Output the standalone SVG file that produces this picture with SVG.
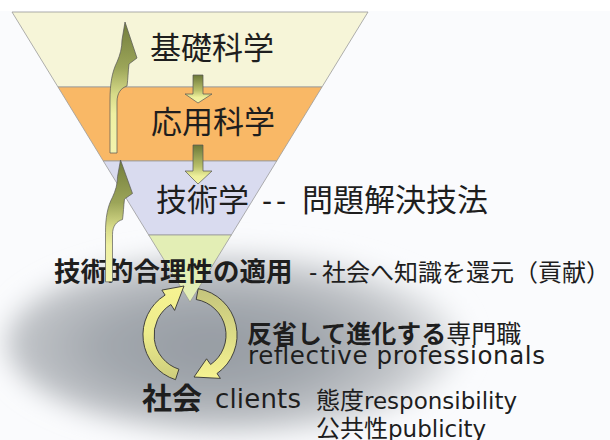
<svg xmlns="http://www.w3.org/2000/svg" xmlns:xlink="http://www.w3.org/1999/xlink" width="610" height="440" viewBox="0 0 610 440">
<defs>
<style>
.jp{font-family:"Noto Sans CJK JP","Noto Sans",sans-serif;fill:#1e1e1e}
.lat{font-family:"DejaVu Sans","Liberation Sans",sans-serif;fill:#1e1e1e}
.b{font-weight:bold}
.band{stroke:#9a9a9a;stroke-width:0.8}
.arr{stroke:#555;stroke-width:0.7}
.circ{stroke:#333;stroke-width:0.9}
</style>
<radialGradient id="shade" cx="0.45" cy="0.52" r="0.55">
<stop offset="0" stop-color="#959ba2"/>
<stop offset="0.45" stop-color="#a3a8ae"/>
<stop offset="0.78" stop-color="#c2c5c9"/>
<stop offset="1" stop-color="#eaecee"/>
</radialGradient>
<filter id="blur" x="-30%" y="-40%" width="160%" height="180%">
<feGaussianBlur stdDeviation="13"/>
</filter>
<linearGradient id="downG" x1="0" y1="0" x2="0" y2="1">
<stop offset="0" stop-color="#6c7838"/>
<stop offset="0.55" stop-color="#b9c06a"/>
<stop offset="0.8" stop-color="#eef09c"/>
<stop offset="1" stop-color="#f2f3a6"/>
</linearGradient>
<linearGradient id="upG" gradientUnits="userSpaceOnUse" x1="0" y1="22" x2="0" y2="153">
<stop offset="0" stop-color="#727d3c"/>
<stop offset="0.35" stop-color="#9ca559"/>
<stop offset="0.55" stop-color="#d6da88"/>
<stop offset="0.7" stop-color="#eef0a2"/>
<stop offset="1" stop-color="#f3f3ae"/>
</linearGradient>
<linearGradient id="leftG" x1="0" y1="0" x2="0" y2="1">
<stop offset="0" stop-color="#f6f392"/>
<stop offset="0.5" stop-color="#eeec8c"/>
<stop offset="1" stop-color="#cccc7c"/>
</linearGradient>
<linearGradient id="rightG" x1="0" y1="0" x2="0" y2="1">
<stop offset="0" stop-color="#c4c47c"/>
<stop offset="0.5" stop-color="#dcdb86"/>
<stop offset="1" stop-color="#f6f392"/>
</linearGradient>
<path id="upArrow" d="M110,153 L110,100 C110,84 112,72 117,62 C120,55 122,48 122,40 L125,22 L137,58 L129,64 C128,72 128,79 127,86 C121,88 117,93 117,102 L117,153 Z"/>
</defs>

<rect x="0" y="0" width="610" height="440" fill="#fafbfd"/>
<rect x="0" y="0" width="610" height="11" fill="#ffffff"/>

<g id="shadow">
<ellipse cx="234" cy="343" rx="228" ry="90" fill="url(#shade)" filter="url(#blur)"/>
</g>

<g id="funnel">
<g id="node-basic-science">
<polygon class="band" points="12,12 368,12 322,87 58,87" fill="#f6f5d8"/>
<text class="jp" x="150" y="59" font-size="31">基礎科学</text>
</g>
<g id="node-applied-science">
<polygon class="band" points="58,87 322,87 276.7,161 103.3,161" fill="#f9b866"/>
<text class="jp" x="151" y="133" font-size="31">応用科学</text>
</g>
<g id="node-engineering">
<polygon class="band" points="103.3,161 276.7,161 231.3,235 148.7,235" fill="#d9dbef"/>
<text class="jp" x="156" y="211" font-size="31">技術学</text>
<text class="lat" x="262" y="211" font-size="28" letter-spacing="4">--</text>
<text class="jp" x="302" y="211" font-size="31">問題解決技法</text>
</g>
<g id="node-apex">
<polygon class="band" points="148.7,235 231.3,235 190,302" fill="#e3eeb5"/>
</g>
</g>

<g id="node-application">
<text class="jp b" x="54" y="281" font-size="26.5">技術的合理性の適用</text>
<text class="lat" x="309" y="280" font-size="23">-</text>
<text class="jp" x="322" y="281" font-size="24">社会へ知識を還元（貢献）</text>
</g>

<g id="node-professionals">
<text class="jp" x="247" y="343" font-size="25"><tspan class="b">反省して進化する</tspan>専門職</text>
<text class="lat" x="248" y="364" font-size="24.5" textLength="297" lengthAdjust="spacing">reflective professionals</text>
</g>

<g id="node-society">
<text class="jp b" x="142" y="409" font-size="30">社会</text>
<text class="lat" x="215" y="408" font-size="26" textLength="86" lengthAdjust="spacing">clients</text>
<text class="jp" x="316" y="409" font-size="24">態度</text>
<text class="lat" x="364" y="409" font-size="23">responsibility</text>
<text class="jp" x="316" y="437" font-size="24">公共性</text>
<text class="lat" x="388" y="437" font-size="23">publicity</text>
</g>

<g id="connectors">
<path class="arr" d="M193,75 L203,75 L203,94 L212,94 L198,103 L185,94 L193,94 Z" fill="url(#downG)"/>
<path class="arr" d="M193,145 L203,145 L203,171 L212,171 L198,184 L185,171 L193,171 Z" fill="url(#downG)"/>
<use xlink:href="#upArrow" href="#upArrow" class="arr" fill="url(#upG)"/>
<use xlink:href="#upArrow" href="#upArrow" class="arr" fill="url(#upG)" transform="matrix(1 0 0 0.93 -4.5 139.54)"/>
<path class="circ" fill="url(#leftG)" d="M175.5,379.7 A47,47 0 0 1 165.1,295.1 L161.9,290.1 L184,286 L174.6,310.4 L170.9,304.5 A36,36 0 0 0 178.9,369.2 Z"/>
<path class="circ" fill="url(#rightG)" d="M198.2,288.7 A47,47 0 0 1 217.0,373.5 L220.4,378.4 L194,377 L206.6,358.8 L210.6,364.5 A36,36 0 0 0 196.2,299.5 Z"/>
</g>
</svg>
